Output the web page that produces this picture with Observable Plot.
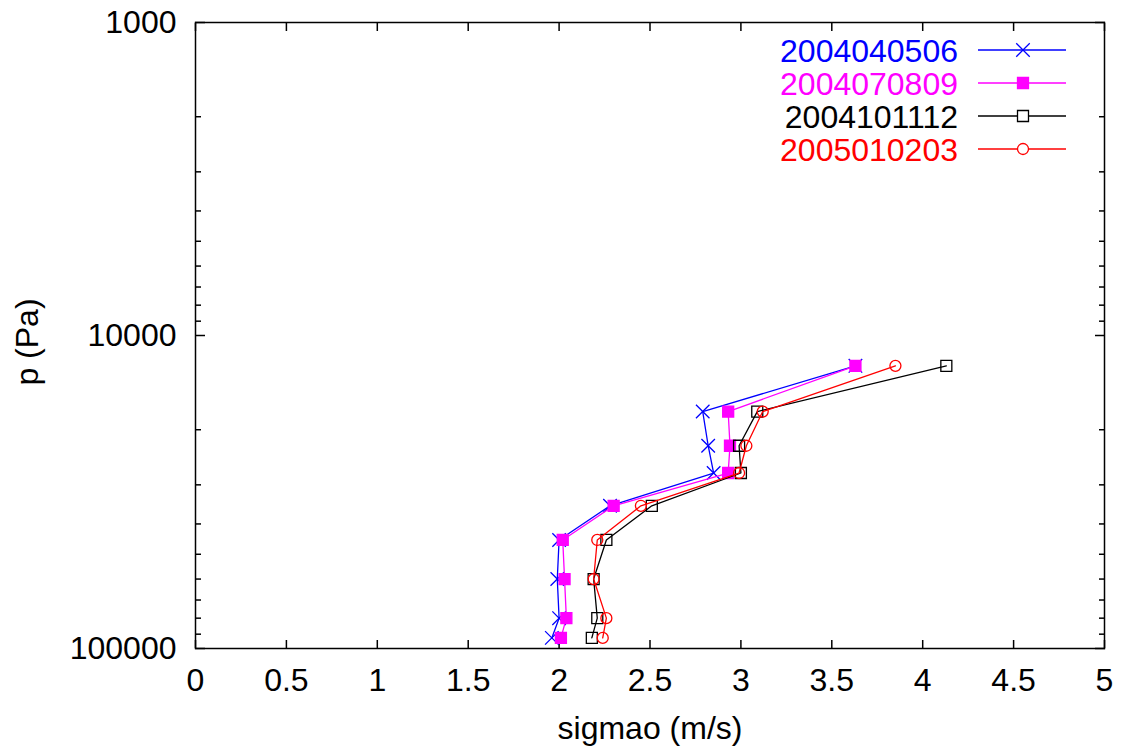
<!DOCTYPE html>
<html>
<head>
<meta charset="utf-8">
<script src="https://cdn.jsdelivr.net/npm/d3@7"></script>
<script src="https://cdn.jsdelivr.net/npm/@observablehq/plot@0.6"></script>
<style>
  html, body { margin: 0; padding: 0; background: white; }
  #chart svg { display: block; }
</style>
</head>
<body>
<div id="chart"></div>
<script>
// Pressure levels (Pa)
const levels = [12500, 17500, 22500, 27500, 35000, 45000, 60000, 80000, 92500];
// Series names
const seriesNames = ["2004040506", "2004070809", "2004101112", "2005010203"];
// sigmao values (m/s) per series, at each level above
const s2004040506 = [3.63, 2.79, 2.82, 2.85, 2.28, 2.00, 1.99, 2.00, 1.96];
const s2004070809 = [3.63, 2.93, 2.94, 2.93, 2.30, 2.02, 2.03, 2.04, 2.01];
const s2004101112 = [4.13, 3.09, 2.99, 3.00, 2.51, 2.26, 2.19, 2.21, 2.18];
const s2005010203 = [3.85, 3.12, 3.03, 2.99, 2.45, 2.21, 2.19, 2.26, 2.24];
// Tick values
const xTicks = [0, 0.5, 1, 1.5, 2, 2.5, 3, 3.5, 4, 4.5, 5];
const yMajor = [1000, 10000, 100000];
const yMinor = [2000, 3000, 4000, 5000, 6000, 7000, 8000, 9000,
                20000, 30000, 40000, 50000, 60000, 70000, 80000, 90000];
const xLabel = "sigmao (m/s)";
const yLabel = "p (Pa)";

const seriesValues = [s2004040506, s2004070809, s2004101112, s2005010203];
const colors = ["#0000ff", "#ff00ff", "#000000", "#ff0000"];
const symbols = ["times", "square", "square", "circle"];
const fills = ["none", "#ff00ff", "none", "none"];

const data = [];
seriesNames.forEach((name, i) => {
  levels.forEach((p, j) => data.push({series: name, p, v: seriesValues[i][j], idx: i}));
});

const marks = [
  Plot.frame({stroke: "black", strokeWidth: 1.5}),
  Plot.axisX({anchor: "bottom", ticks: xTicks, tickSize: 0, tickPadding: 20, tickFormat: d => String(d),
              label: xLabel, labelAnchor: "center", labelArrow: "none", labelOffset: 90}),
  Plot.axisX({anchor: "bottom", ticks: xTicks, tickSize: -8, text: null, label: null, strokeWidth: 1.5}),
  Plot.axisX({anchor: "top", ticks: xTicks, tickSize: -8, text: null, label: null, strokeWidth: 1.5}),
  Plot.axisY({anchor: "left", ticks: yMajor, tickSize: 0, tickPadding: 19, tickFormat: d => String(d), label: null}),
  Plot.axisY({anchor: "left", ticks: yMajor, tickSize: -10, text: null, label: null, strokeWidth: 1.5}),
  Plot.axisY({anchor: "right", ticks: yMajor, tickSize: -10, text: null, label: null, strokeWidth: 1.5}),
  Plot.axisY({anchor: "left", ticks: yMinor, tickSize: -6, text: null, label: null, strokeWidth: 1.5}),
  Plot.axisY({anchor: "right", ticks: yMinor, tickSize: -6, text: null, label: null, strokeWidth: 1.5})
];

seriesNames.forEach((name, i) => {
  const d = data.filter(r => r.series === name);
  marks.push(Plot.line(d, {x: "v", y: "p", stroke: colors[i], strokeWidth: 1.3}));
  marks.push(Plot.dot(d, {x: "v", y: "p", stroke: colors[i], fill: fills[i], symbol: symbols[i],
                          r: symbols[i] === "circle" ? 5.5 : 6.2, strokeWidth: 1.3}));
});

const chart = Plot.plot({
  width: 1121,
  height: 753,
  marginLeft: 195,
  marginRight: 17,
  marginTop: 22,
  marginBottom: 105,
  style: {fontFamily: "'Liberation Sans', Arial, Helvetica, sans-serif", fontSize: "32px", background: "white", color: "black"},
  x: {domain: [0, 5]},
  y: {type: "log", domain: [1000, 100000], reverse: true},
  marks
});

const svg = d3.select(chart);

// Y axis title (rotated)
svg.append("text")
  .attr("transform", "translate(27,342) rotate(-90)")
  .attr("text-anchor", "middle").attr("dy", "0.35em")
  .attr("fill", "black")
  .attr("font-family", "'Liberation Sans', Arial, sans-serif").attr("font-size", 32)
  .text(yLabel);

// Legend inside the plot area (top right)
const lg = svg.append("g").attr("class", "legend");
const rowY = [50, 83, 116, 149];
const symMap = {times: d3.symbolTimes, square: d3.symbolSquare, circle: d3.symbolCircle};
seriesNames.forEach((name, i) => {
  const y = rowY[i];
  lg.append("text").attr("x", 958).attr("y", y).attr("dy", "0.36em")
    .attr("text-anchor", "end").attr("fill", colors[i])
    .attr("font-family", "'Liberation Sans', Arial, sans-serif").attr("font-size", 32)
    .text(name);
  lg.append("line").attr("x1", 978).attr("x2", 1066).attr("y1", y).attr("y2", y)
    .attr("stroke", colors[i]).attr("stroke-width", 1.3);
  const r = symbols[i] === "circle" ? 5.5 : 6.2;
  lg.append("path").attr("transform", `translate(1023,${y})`)
    .attr("d", d3.symbol(symMap[symbols[i]], Math.PI * r * r)())
    .attr("stroke", colors[i]).attr("fill", fills[i] === "none" ? "white" : fills[i]).attr("stroke-width", 1.3);
});

document.getElementById("chart").appendChild(chart);
</script>
</body>
</html>
